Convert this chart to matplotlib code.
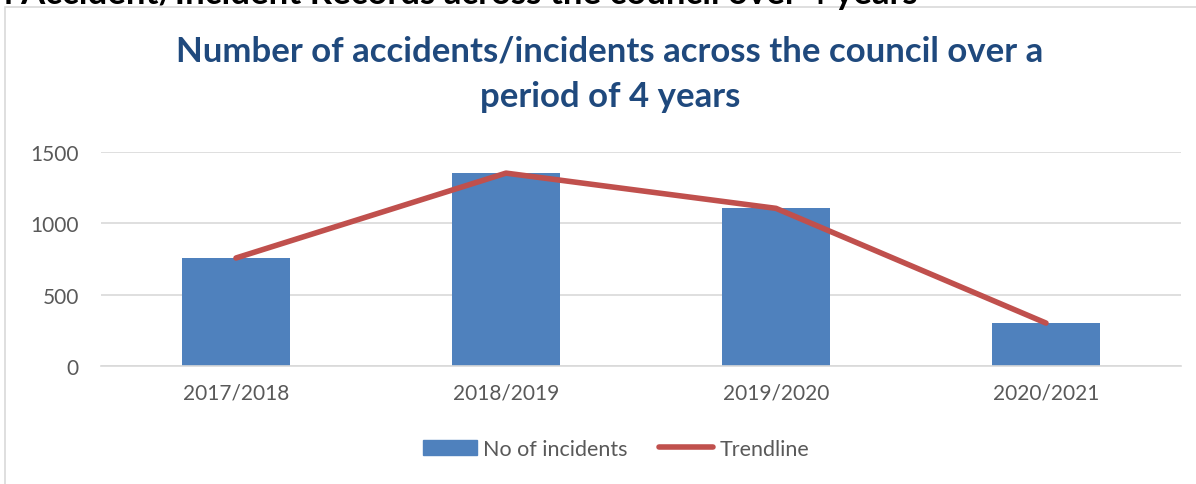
import matplotlib
matplotlib.use("Agg")
import matplotlib.pyplot as plt
from matplotlib.patches import Rectangle
from matplotlib.lines import Line2D

categories = ["2017/2018", "2018/2019", "2019/2020", "2020/2021"]
incidents = [757, 1352, 1105, 301]
trendline = [757, 1352, 1105, 301]
yticks = [0, 500, 1000, 1500]

plt.rcParams['font.family'] = ['Lato', 'DejaVu Sans']

fig = plt.figure(figsize=(11.96, 4.85), dpi=100)
W, H = 1196, 485

# chart border
fig.patches.append(Rectangle((5 / W, -0.1), 1.2, 1 - 8 / H + 0.1, transform=fig.transFigure,
                             fill=False, edgecolor="#D9D9D9", linewidth=1.2))

# clipped heading above the chart (cut by the page edge in the original)
fig.text(-0.006, 1 - 4 / H, "n Accident/Incident Records across the council over 4 years",
         fontsize=25, fontweight="bold", color="black", ha="left", va="baseline")

ax = fig.add_axes([101 / W, 1 - 367 / H, 1080 / W, 214 / H])
x = list(range(len(categories)))
ax.bar(x, incidents, width=0.4, color="#4F81BD", zorder=2, label="No of incidents")
ax.plot(x, trendline, color="#C0504D", linewidth=4, solid_capstyle="round", zorder=3, label="Trendline")
ax.set_xlim(-0.5, 3.5)
ax.set_ylim(0, 1500)
ax.set_yticks(yticks)
ax.set_xticks(x)
ax.set_xticklabels(categories)
ax.yaxis.grid(True, color="#D9D9D9", linewidth=1.2, zorder=0)
ax.set_axisbelow(True)
for s in ["top", "right", "left"]:
    ax.spines[s].set_visible(False)
ax.spines["bottom"].set_color("#D9D9D9")
ax.spines["bottom"].set_linewidth(1.2)
ax.tick_params(axis="both", length=0, labelsize=15, labelcolor="#595959")
ax.tick_params(axis="y", pad=16)
ax.tick_params(axis="x", pad=12)

fig.text(610 / W, 1 - 52 / H, "Number of accidents/incidents across the council over a",
         ha="center", va="center", fontsize=25, fontweight="bold", color="#1F497D")
fig.text(610 / W, 1 - 97 / H, "period of 4 years",
         ha="center", va="center", fontsize=25, fontweight="bold", color="#1F497D")

handles = [Rectangle((0, 0), 1, 1, color="#4F81BD"),
           Line2D([0], [0], color="#C0504D", linewidth=4, solid_capstyle="round")]
fig.legend(handles, ["No of incidents", "Trendline"], loc="center", bbox_to_anchor=(616 / W, 1 - 450 / H),
           ncol=2, frameon=False, fontsize=15.5, labelcolor="#595959", handlelength=2.5,
           handletextpad=0.3, columnspacing=1.45, handleheight=0.75)

fig.savefig("out.png", dpi=100)
